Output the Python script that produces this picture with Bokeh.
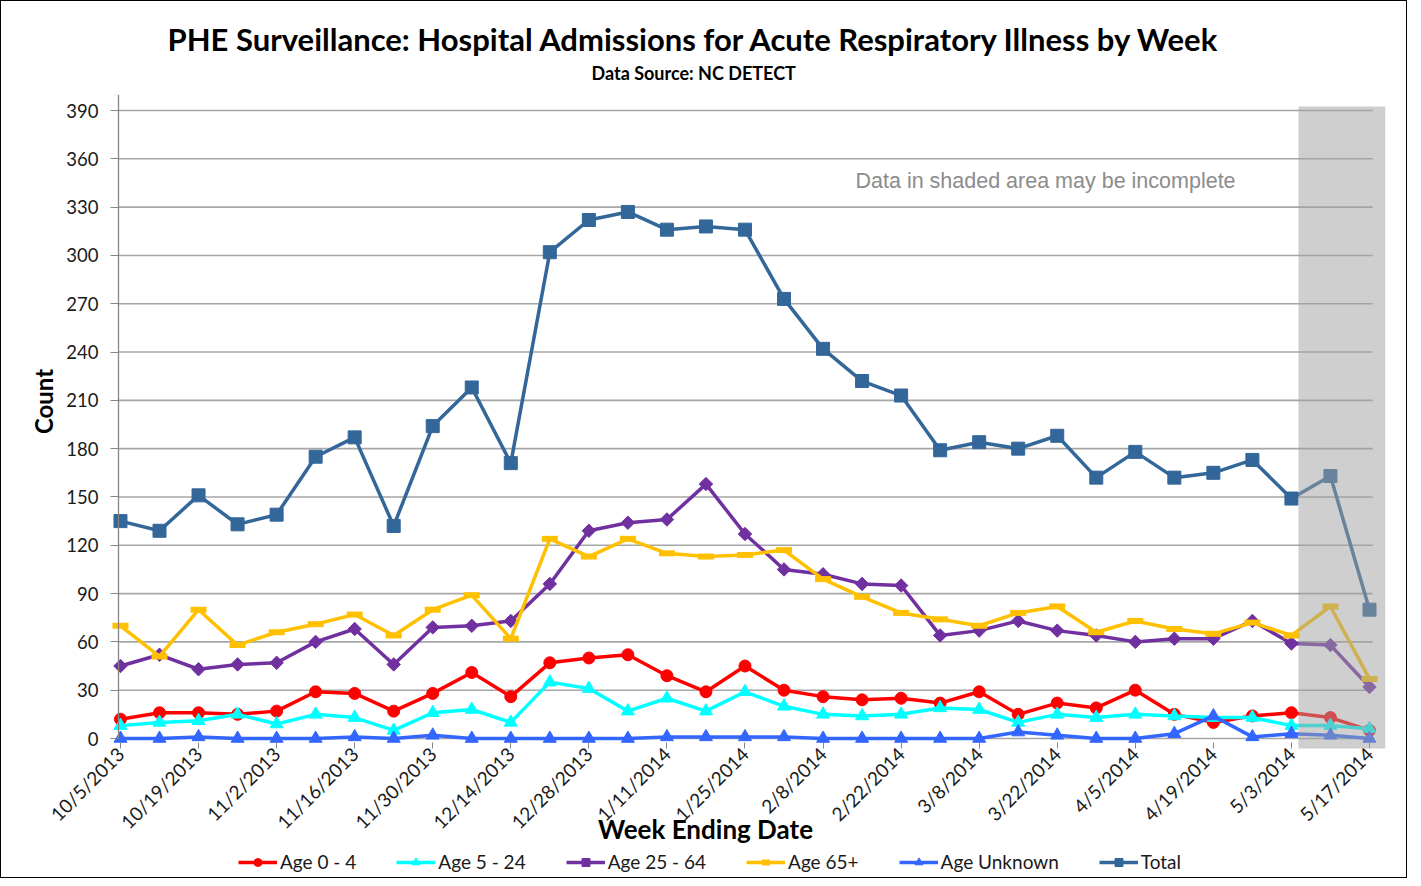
import math
from bokeh.plotting import figure
from bokeh.models import (FixedTicker, Label, Legend, LegendItem, BoxAnnotation,
                          ColumnDataSource, Title)
from bokeh.embed import file_html
from bokeh.resources import INLINE

weeks = ["10/5/2013", "10/12/2013", "10/19/2013", "10/26/2013", "11/2/2013", "11/9/2013",
         "11/16/2013", "11/23/2013", "11/30/2013", "12/7/2013", "12/14/2013", "12/21/2013",
         "12/28/2013", "1/4/2014", "1/11/2014", "1/18/2014", "1/25/2014", "2/1/2014",
         "2/8/2014", "2/15/2014", "2/22/2014", "3/1/2014", "3/8/2014", "3/15/2014",
         "3/22/2014", "3/29/2014", "4/5/2014", "4/12/2014", "4/19/2014", "4/26/2014",
         "5/3/2014", "5/10/2014", "5/17/2014"]
age_0_4 = [12, 16, 16, 15, 17, 29, 28, 17, 28, 41, 26, 47, 50, 52, 39, 29, 45, 30, 26, 24,
           25, 22, 29, 15, 22, 19, 30, 15, 10, 14, 16, 13, 5]
age_5_24 = [8, 10, 11, 15, 9, 15, 13, 5, 16, 18, 10, 35, 31, 17, 25, 17, 29, 20, 15, 14,
            15, 19, 18, 10, 15, 13, 15, 14, 13, 13, 8, 8, 6]
age_25_64 = [45, 52, 43, 46, 47, 60, 68, 46, 69, 70, 73, 96, 129, 134, 136, 158, 127, 105, 102, 96,
             95, 64, 67, 73, 67, 64, 60, 62, 62, 73, 59, 58, 32]
age_65_plus = [70, 51, 80, 58, 66, 71, 77, 64, 80, 89, 62, 124, 113, 124, 115, 113, 114, 117, 99, 88,
               78, 74, 70, 78, 82, 66, 73, 68, 65, 72, 64, 82, 37]
age_unknown = [0, 0, 1, 0, 0, 0, 1, 0, 2, 0, 0, 0, 0, 0, 1, 1, 1, 1, 0, 0,
               0, 0, 0, 4, 2, 0, 0, 3, 14, 1, 3, 2, 0]
total = [135, 129, 151, 133, 139, 175, 187, 132, 194, 218, 171, 302, 322, 327, 316, 318, 316, 273, 242, 222,
         213, 179, 184, 180, 188, 162, 178, 162, 165, 173, 149, 163, 80]

series_names = ["Age 0 - 4", "Age 5 - 24", "Age 25 - 64", "Age 65+", "Age Unknown", "Total"]
series_values = [age_0_4, age_5_24, age_25_64, age_65_plus, age_unknown, total]
y_ticks = list(range(0, 391, 30))

# plotting-area geometry (data units)
shaded_from = 30.18   # start of incomplete-data zone (week index)
shade_top = 392.5
plot_floor = -6.21    # lower edge of plotting area (x axis drawn here)
plot_left = -0.05     # left edge of plotting area (y axis drawn here)
grid_end = 32.08      # right end of horizontal grid lines

colors = ["#FF0000", "#00FFFF", "#7030A0", "#FFC000", "#3366FF", "#336699"]
markers = ["circle", "triangle", "square", "dash", "triangle", "square"]
angles = [0, 0, math.pi / 4, 0, 0, 0]
msizes = [12, 13, 9.5, 16, 13, 13]

FONT = "Lato"

idx = list(range(len(weeks)))

# the frame spans the whole chart body so that axis titles, tick labels and legend live inside it
p = figure(frame_width=1384, frame_height=783, output_backend="svg", toolbar_location=None,
           title_location=None,
           x_range=(-3.048, 32.41), y_range=(-86.32, 399.94),
           min_border_left=0, min_border_right=21, min_border_top=93, min_border_bottom=0)
p.outline_line_color = None
p.background_fill_color = "white"
p.border_fill_color = "white"
p.styles = {"border": "1px solid black"}

p.xgrid.visible = False
p.ygrid.visible = False
p.segment(x0=[plot_left] * len(y_ticks), y0=y_ticks, x1=[grid_end] * len(y_ticks), y1=y_ticks,
          line_color="#A6A6A6", line_width=1.6)

# y axis, drawn at the left edge of the plotting area
p.yaxis.fixed_location = plot_left
p.yaxis.ticker = FixedTicker(ticks=y_ticks)
p.yaxis.bounds = (0, 399.94)
p.yaxis.axis_line_color = "#868686"
p.yaxis.axis_line_width = 1.3
p.yaxis.major_tick_line_color = "#868686"
p.yaxis.major_tick_out = 8
p.yaxis.major_tick_in = 0
p.yaxis.minor_tick_line_color = None
p.yaxis.major_label_text_font = FONT
p.yaxis.major_label_text_font_size = "18.5px"
p.yaxis.major_label_text_color = "#1a1a1a"
p.yaxis.major_label_standoff = 12

# x axis, drawn at the floor of the plotting area
p.xaxis.fixed_location = plot_floor
p.xaxis.ticker = FixedTicker(ticks=idx[::2])
p.xaxis.major_label_overrides = {i: weeks[i] for i in idx[::2]}
p.xaxis.major_label_orientation = math.pi / 4
p.xaxis.axis_line_color = None
p.xaxis.major_tick_line_color = "#868686"
p.xaxis.major_tick_in = 6
p.xaxis.major_tick_out = 0
p.xaxis.minor_tick_line_color = None
p.xaxis.major_label_text_font = FONT
p.xaxis.major_label_text_font_size = "19px"
p.xaxis.major_label_text_color = "#1a1a1a"
p.xaxis.major_label_standoff = 2

items = []
for name, vals, c, m, a, s in zip(series_names, series_values, colors, markers, angles, msizes):
    src = ColumnDataSource(dict(x=idx, y=vals))
    lr = p.line("x", "y", source=src, line_color=c, line_width=3.5)
    if m == "dash":
        sr = p.scatter("x", "y", source=src, marker="dash", size=s, line_color=c, line_width=6)
    else:
        sr = p.scatter("x", "y", source=src, marker=m, angle=a, size=s, fill_color=c, line_color=c)
    items.append(LegendItem(label=name, renderers=[lr, sr]))

shade = BoxAnnotation(left=shaded_from, top=shade_top, bottom=plot_floor,
                      fill_color="#A0A0A0", fill_alpha=0.5, line_color=None)
p.add_layout(shade)

p.add_layout(Label(x=854, y=697, x_units="screen", y_units="screen",
                   text="Data in shaded area may be incomplete",
                   text_font="Liberation Sans", text_font_size="21.5px",
                   text_color="#8C8C8C", text_align="left", text_baseline="middle"))

p.add_layout(Label(x=704, y=49, x_units="screen", y_units="screen",
                   text="Week Ending Date",
                   text_font=FONT, text_font_size="26px", text_font_style="bold",
                   text_color="black", text_align="center", text_baseline="middle"))

p.add_layout(Label(x=42, y=476, x_units="screen", y_units="screen",
                   text="Count", angle=math.pi / 2,
                   text_font=FONT, text_font_size="24px", text_font_style="bold",
                   text_color="black", text_align="center", text_baseline="middle"))

legend = Legend(items=items, orientation="horizontal", location=(237, 4),
                label_text_font=FONT, label_text_font_size="19px", label_text_color="#1a1a1a",
                glyph_width=39, glyph_height=20, label_standoff=3, spacing=40,
                padding=3, margin=0, border_line_color=None, background_fill_alpha=0)
p.add_layout(legend, "center")

# titles above (first added is closest to the frame); first one is only a spacer
p.add_layout(Title(text=" ", standoff=8, text_font_size="1px"), "above")
p.add_layout(Title(text="Data Source: NC DETECT", align="left", offset=590, standoff=0,
                   text_font=FONT, text_font_size="18px", text_font_style="bold",
                   text_color="black"), "above")
p.add_layout(Title(text="PHE Surveillance: Hospital Admissions for Acute Respiratory Illness by Week",
                   align="left", offset=166, standoff=3,
                   text_font=FONT, text_font_size="31px", text_font_style="bold",
                   text_color="black"), "above")

open("out.html", "w").write(file_html(p, INLINE))
